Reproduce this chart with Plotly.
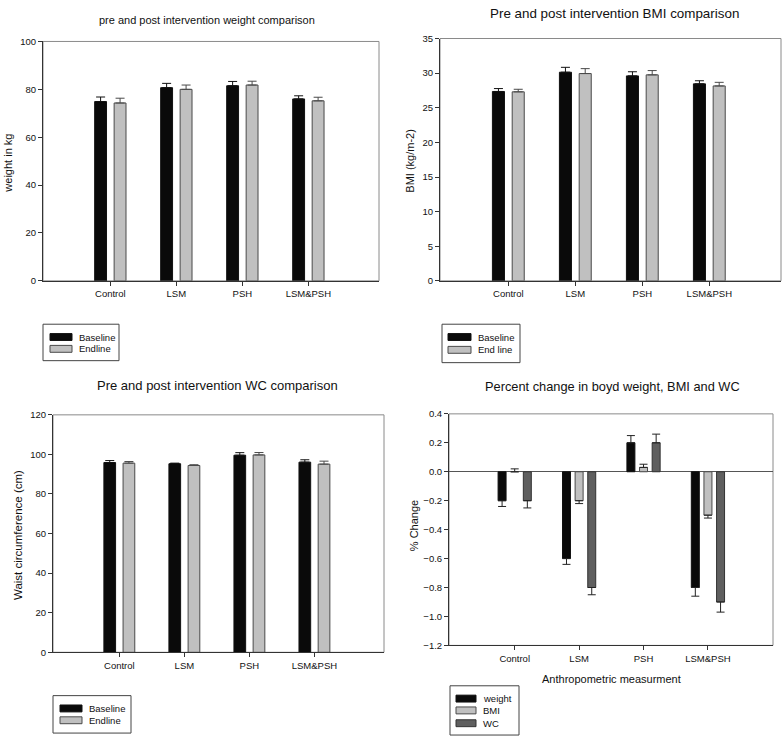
import plotly.graph_objects as go

# ---------------- data ----------------
groups = ["Control", "LSM", "PSH", "LSM&PSH"]

weight_baseline = [74.9, 80.7, 81.5, 76.0]
weight_baseline_err = [1.9, 1.8, 1.8, 1.3]
weight_endline = [74.3, 80.0, 81.8, 75.2]
weight_endline_err = [2.0, 1.8, 1.6, 1.5]

bmi_baseline = [27.35, 30.13, 29.6, 28.45]
bmi_baseline_err = [0.42, 0.71, 0.6, 0.45]
bmi_endline = [27.3, 29.94, 29.75, 28.15]
bmi_endline_err = [0.37, 0.71, 0.62, 0.52]

wc_baseline = [95.9, 95.3, 99.6, 96.1]
wc_baseline_err = [1.0, 0.3, 1.3, 1.2]
wc_endline = [95.6, 94.4, 99.75, 95.1]
wc_endline_err = [0.8, 0.4, 1.2, 1.5]

pct_weight = [-0.2, -0.6, 0.2, -0.8]
pct_weight_err = [0.04, 0.04, 0.05, 0.06]
pct_bmi = [0.0, -0.2, 0.03, -0.3]
pct_bmi_err = [0.02, 0.02, 0.022, 0.02]
pct_wc = [-0.2, -0.8, 0.2, -0.9]
pct_wc_err = [0.05, 0.05, 0.06, 0.07]

# ---------------- style ----------------
FONT = "Arial, Liberation Sans, sans-serif"
BLACK = "#0a0a0a"
LIGHT = "#c0c0c0"
DARK = "#5f5f5f"
W, H = 784, 743


def px_x(p):
    return p / W


def px_y(p):
    return 1 - p / H


fig = go.Figure()


def add_pair(xa, ya, b, be, e, ee, names):
    fig.add_trace(go.Bar(
        x=groups, y=b, name=names[0], xaxis=xa, yaxis=ya, showlegend=False,
        marker=dict(color=BLACK, line=dict(color="#111", width=1)),
        error_y=dict(type="data", array=be, arrayminus=[0] * len(be), symmetric=False,
                     color="#111", thickness=1, width=4.5),
    ))
    fig.add_trace(go.Bar(
        x=groups, y=e, name=names[1], xaxis=xa, yaxis=ya, showlegend=False,
        marker=dict(color=LIGHT, line=dict(color="#4a4a4a", width=1)),
        error_y=dict(type="data", array=ee, arrayminus=[0] * len(ee), symmetric=False,
                     color="#4a4a4a", thickness=1, width=4.5),
    ))


add_pair("x", "y", weight_baseline, weight_baseline_err,
         weight_endline, weight_endline_err, ["Baseline", "Endline"])
add_pair("x2", "y2", bmi_baseline, bmi_baseline_err,
         bmi_endline, bmi_endline_err, ["Baseline", "End line"])
add_pair("x3", "y3", wc_baseline, wc_baseline_err,
         wc_endline, wc_endline_err, ["Baseline", "Endline"])


def dir_err(vals, errs):
    up = [e if v >= 0 else 0 for v, e in zip(vals, errs)]
    dn = [e if v < 0 else 0 for v, e in zip(vals, errs)]
    return up, dn


BW4 = 0.124
SP4 = 0.196
pct_series = [
    (pct_weight, pct_weight_err, "weight", BLACK, "#111"),
    (pct_bmi, pct_bmi_err, "BMI", LIGHT, "#4a4a4a"),
    (pct_wc, pct_wc_err, "WC", DARK, "#333"),
]
for k, (vals, errs, name, col, lc) in enumerate(pct_series):
    up, dn = dir_err(vals, errs)
    fig.add_trace(go.Bar(
        x=groups, y=vals, name=name, xaxis="x4", yaxis="y4", showlegend=False,
        width=BW4, offset=(k - 1) * SP4 - BW4 / 2,
        marker=dict(color=col, line=dict(color=lc, width=1)),
        error_y=dict(type="data", array=up, arrayminus=dn, symmetric=False,
                     color="#222", thickness=1, width=4),
    ))

axis_common = dict(showline=True, linecolor="#333", linewidth=1, mirror=False,
                   ticks="outside", ticklen=4, tickcolor="#333", showgrid=False,
                   tickfont=dict(family=FONT, size=9.5, color="#111"))

panels = {
    1: ((43, 379), (36, 279), [0, 100], 20, [-1.02, 4.07]),
    2: ((440, 781), (33, 279), [0, 35], 5, [-1.02, 4.07]),
    3: ((53, 384), (415, 656), [0, 120], 20, [-1.02, 4.07]),
    4: ((449, 773), (414, 649), [-1.2, 0.4], 0.2, [-1.02, 4.01]),
}

layout_axes = {}
for i, (xd, yd, yr, dt, xr) in panels.items():
    sfx = "" if i == 1 else str(i)
    layout_axes["xaxis" + sfx] = dict(
        domain=[px_x(xd[0]), px_x(xd[1])], anchor="y" + sfx, range=xr,
        categoryorder="array", categoryarray=groups, zeroline=False, **axis_common)
    ydict = dict(domain=[px_y(yd[1]), px_y(yd[0])], anchor="x" + sfx, range=yr,
                 dtick=dt, **axis_common)
    if i == 4:
        ydict.update(tickformat=".1f", zeroline=True, zerolinecolor="#555",
                     zerolinewidth=1)
    else:
        ydict.update(zeroline=False)
    layout_axes["yaxis" + sfx] = ydict
    # lighter frame (top/right edges) like the original
    fig.add_shape(type="rect", xref="x" + sfx + " domain", yref="y" + sfx + " domain",
                  x0=0, x1=1, y0=0, y1=1, line=dict(color="#8a8a8a", width=1),
                  layer="below")

fig.update_layout(
    width=W, height=H,
    margin=dict(l=0, r=0, t=0, b=0),
    paper_bgcolor="white", plot_bgcolor="white",
    barmode="group", bargap=0.41, bargroupgap=0.39,
    font=dict(family=FONT, color="#111"),
    showlegend=False,
    **layout_axes,
)

# ---------------- legends (SigmaPlot style boxes) ----------------
legends = [
    ((43, 323, 119, 360), 50, 72, 77, [336, 348],
     [("Baseline", BLACK, "#111"), ("Endline", LIGHT, "#4a4a4a")]),
    ((442, 323, 520, 362), 448, 471, 476, [336, 349],
     [("Baseline", BLACK, "#111"), ("End line", LIGHT, "#4a4a4a")]),
    ((53, 700, 131, 738), 60, 82, 87, [713, 725],
     [("Baseline", BLACK, "#111"), ("Endline", LIGHT, "#4a4a4a")]),
    ((450, 690, 519, 740), 456, 476, 481, [703, 715, 728],
     [(s[2], s[3], s[4]) for s in pct_series]),
]
for box, sx0, sx1, tx, rows, entries in legends:
    fig.add_shape(type="rect", xref="paper", yref="paper",
                  x0=px_x(box[0]), x1=px_x(box[2]), y0=px_y(box[3]), y1=px_y(box[1]),
                  line=dict(color="#444", width=1), fillcolor="white", layer="above")
    for ry, (label, col, lc) in zip(rows, entries):
        fig.add_shape(type="rect", xref="paper", yref="paper",
                      x0=px_x(sx0), x1=px_x(sx1), y0=px_y(ry + 3.5), y1=px_y(ry - 3.5),
                      line=dict(color=lc, width=1), fillcolor=col, layer="above")
        fig.add_annotation(text=label, x=px_x(tx), y=px_y(ry), xref="paper", yref="paper",
                           xanchor="left", yanchor="middle", showarrow=False,
                           font=dict(family=FONT, size=9.5, color="#111"))

annotations = [
    dict(text="pre and post intervention weight comparison", x=px_x(207), y=px_y(14), size=11),
    dict(text="Pre and post intervention BMI comparison", x=px_x(614), y=px_y(8), size=13.4),
    dict(text="Pre and post intervention WC comparison", x=px_x(217), y=px_y(385), size=13),
    dict(text="Percent change in boyd weight, BMI and WC", x=px_x(612), y=px_y(386), size=12.8),
    dict(text="Anthropometric measurment", x=px_x(611), y=px_y(683), size=11),
    dict(text="weight in kg", x=px_x(8), y=px_y(160), size=11, angle=-90),
    dict(text="BMI (kg/m-2)", x=px_x(410), y=px_y(157), size=11, angle=-90),
    dict(text="Waist circumference (cm)", x=px_x(18), y=px_y(537), size=11.5, angle=-90),
    dict(text="% Change", x=px_x(414), y=px_y(527), size=11, angle=-90),
]
for a in annotations:
    fig.add_annotation(text=a["text"], x=a["x"], y=a["y"], xref="paper", yref="paper",
                       xanchor="center", yanchor="middle", showarrow=False,
                       textangle=a.get("angle", 0),
                       font=dict(family=FONT, size=a["size"], color="#111"))

fig.write_html("out.html",
               config={"displayModeBar": False},
               post_script="document.body.style.margin='0px';"
                           "document.body.style.overflow='hidden';")
